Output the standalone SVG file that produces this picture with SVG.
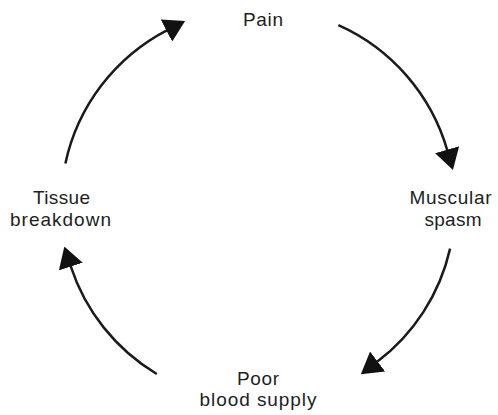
<svg xmlns="http://www.w3.org/2000/svg" width="498" height="415" viewBox="0 0 498 415">
<style>
.lbl{font-family:"Liberation Sans",Arial,sans-serif;font-size:19px;fill:#1e1e1e;text-anchor:middle}
.arc{fill:none;stroke:#1a1a1a;stroke-width:2.5;marker-end:url(#head)}
</style>
<defs>
<marker id="head" viewBox="0 0 21 25" refX="1" refY="12.5" markerWidth="21" markerHeight="25" markerUnits="userSpaceOnUse" orient="auto">
<path d="M0,0 L21,12.5 L0,25 z" fill="#111"/>
</marker>
</defs>
<rect width="498" height="415" fill="#fff"/>
<g id="connectors">
<path class="arc" d="M65.4 163.4 A197 197 0 0 1 167.3 30.1"/>
<path class="arc" d="M338.4 25.2 A197 197 0 0 1 447.4 150.7"/>
<path class="arc" d="M450.1 248.6 A197 197 0 0 1 376.8 362.1"/>
<path class="arc" d="M156.8 374 A197 197 0 0 1 70.5 265.6"/>
</g>
<g id="pain"><text class="lbl" x="263" y="26" textLength="40" lengthAdjust="spacing">Pain</text></g>
<g id="spasm"><text class="lbl" x="450.5" y="204" textLength="82" lengthAdjust="spacing">Muscular</text><text class="lbl" x="453" y="226" textLength="57" lengthAdjust="spacing">spasm</text></g>
<g id="blood"><text class="lbl" x="258" y="385" textLength="42" lengthAdjust="spacing">Poor</text><text class="lbl" x="258" y="406" textLength="117" lengthAdjust="spacing">blood supply</text></g>
<g id="tissue"><text class="lbl" x="61.5" y="204" textLength="57" lengthAdjust="spacing">Tissue</text><text class="lbl" x="60.5" y="226" textLength="101" lengthAdjust="spacing">breakdown</text></g>
</svg>
